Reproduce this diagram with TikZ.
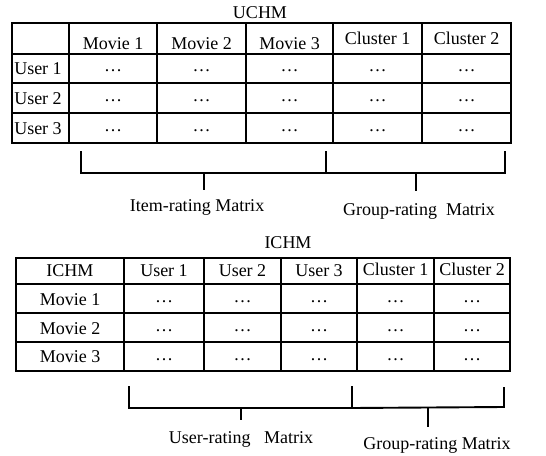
\documentclass[tikz,border=0pt]{standalone}
\usepackage{fontspec}
\setmainfont{Liberation Serif}
\begin{document}
\begin{tikzpicture}[x=1pt,y=-1pt,
  grid/.style={line width=1.9pt},
  brk/.style={line width=1.9pt},
  txt/.style={inner sep=0pt,font=\fontsize{18}{21}\selectfont,text height=12pt,text depth=0pt},
  dots/.style={inner sep=0pt,font=\fontsize{18}{21}\selectfont}]
\useasboundingbox (0,0) rectangle (546,455);
% ---------- UCHM ----------
\node[txt] (t1) at (260,12) {UCHM};
\draw[grid] (12,23) rectangle (511,143);
\foreach \x in {69,157,246,333,422} \draw[grid] (\x,23) -- (\x,143);
\foreach \y in {54,83,113} \draw[grid] (12,\y) -- (511,\y);
\node[txt] (m1) at (113,43) {Movie 1};
\node[txt] (m2) at (201.5,43) {Movie 2};
\node[txt] (m3) at (289.5,43) {Movie 3};
\node[txt] (c1) at (377.5,38) {Cluster 1};
\node[txt] (c2) at (466.5,38) {Cluster 2};
\node[txt] (u1) at (38,68) {User 1};
\node[txt] (u2) at (38,98) {User 2};
\node[txt] (u3) at (38,128) {User 3};
\foreach \x [count=\i] in {113,201.5,289.5,377.5,466.5}
  \foreach \y [count=\j] in {71,101,131}
    \node[dots] (ta\i\j) at (\x,\y) {…};
% brackets top
\coordinate (a1) at (81,151);
\coordinate (a2) at (81,173);
\coordinate (a3) at (326,173);
\coordinate (a4) at (326,151);
\coordinate (a5) at (505,173);
\coordinate (a6) at (505,151);
\coordinate (s1) at (204,173);
\coordinate (s1b) at (204,190);
\coordinate (s2) at (416,173);
\coordinate (s2b) at (416,191);
\draw[brk] (a1) -- (a2) -- (a3) -- (a5) -- (a6);
\draw[brk] (a4) -- (a3);
\draw[brk] (s1) -- (s1b);
\draw[brk] (s2) -- (s2b);
\node[txt] (l1) at (197,205) {Item-rating Matrix};
\node[txt] (l2) at (419,209) {Group-rating\ \ Matrix};
% ---------- ICHM ----------
\node[txt] (t2) at (288,242) {ICHM};
\draw[grid] (16,258) rectangle (510,371);
\foreach \x in {124,204,281,357,434} \draw[grid] (\x,258) -- (\x,371);
\foreach \y in {284,313,342} \draw[grid] (16,\y) -- (510,\y);
\node[txt] (h0) at (70,270) {ICHM};
\node[txt] (h1) at (164,270) {User 1};
\node[txt] (h2) at (242.5,270) {User 2};
\node[txt] (h3) at (319,270) {User 3};
\node[txt] (h4) at (395.5,269) {Cluster 1};
\node[txt] (h5) at (472,269) {Cluster 2};
\node[txt] (v1) at (70,299) {Movie 1};
\node[txt] (v2) at (70,328) {Movie 2};
\node[txt] (v3) at (70,356.5) {Movie 3};
\foreach \x [count=\i] in {164,242.5,319,395.5,472}
  \foreach \y [count=\j] in {302,331,359.5}
    \node[dots] (tb\i\j) at (\x,\y) {…};
% brackets bottom
\coordinate (b1) at (129,386);
\coordinate (b2) at (129,408);
\coordinate (b3) at (352,408);
\coordinate (b4) at (352,386);
\coordinate (b5) at (504,407);
\coordinate (b6) at (504,387);
\coordinate (r1) at (241,408);
\coordinate (r1b) at (241,420);
\coordinate (r2) at (428,407);
\coordinate (r2b) at (428,427);
\draw[brk] (b1) -- (b2) -- (b3) -- (b5) -- (b6);
\draw[brk] (b4) -- (b3);
\draw[brk] (r1) -- (r1b);
\draw[brk] (r2) -- (r2b);
\node[txt] (l3) at (241,437) {User-rating\ \ \ Matrix};
\node[txt] (l4) at (437,443) {Group-rating Matrix};
\end{tikzpicture}
\end{document}
